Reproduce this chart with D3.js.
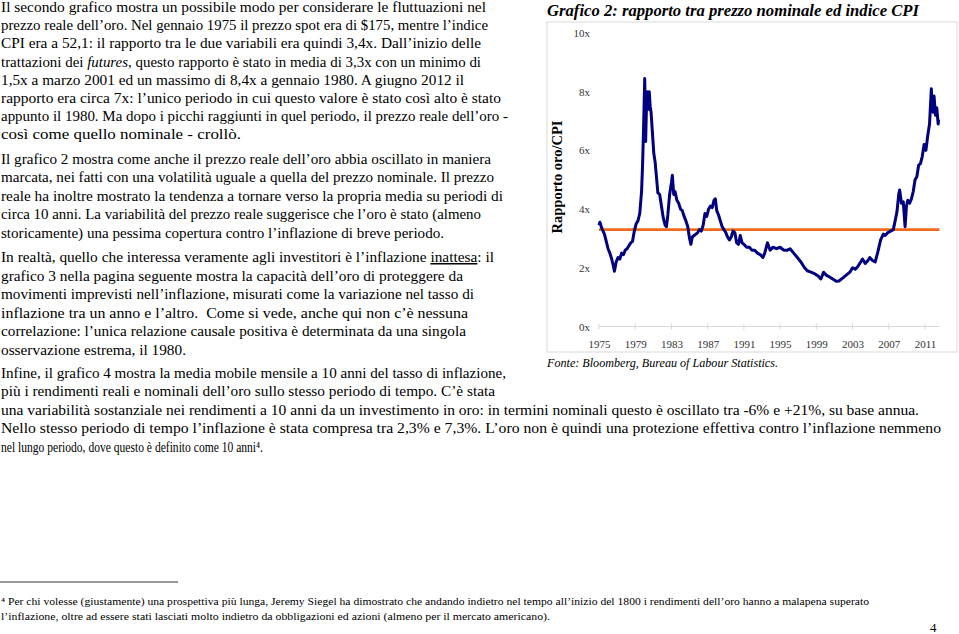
<!DOCTYPE html>
<html><head><meta charset="utf-8">
<script src="https://cdn.jsdelivr.net/npm/d3@7"></script>
<style>body{margin:0;background:#fff} svg{display:block}</style>
</head><body>
<svg id="page" width="959" height="634"></svg>
<script>
// ---------- chart data ----------
const years = [1975.0,1975.1,1975.3,1975.6,1975.8,1976.0,1976.2,1976.4,1976.6,1976.7,1976.9,1977.1,1977.3,1977.5,1977.7,1977.9,1978.1,1978.3,1978.5,1978.7,1978.9,1979.1,1979.3,1979.5,1979.7,1979.8,1979.9,1980.05,1980.15,1980.25,1980.35,1980.45,1980.55,1980.65,1980.75,1980.9,1981.05,1981.2,1981.4,1981.5,1981.7,1981.9,1982.1,1982.3,1982.45,1982.6,1982.8,1983.0,1983.1,1983.25,1983.4,1983.6,1983.8,1984.0,1984.2,1984.4,1984.6,1984.8,1985.0,1985.15,1985.3,1985.5,1985.7,1985.9,1986.1,1986.3,1986.5,1986.7,1986.9,1987.1,1987.3,1987.5,1987.7,1987.85,1988.0,1988.2,1988.4,1988.6,1988.8,1989.0,1989.2,1989.4,1989.6,1989.8,1990.0,1990.2,1990.4,1990.6,1990.8,1991.0,1991.3,1991.6,1991.9,1992.2,1992.5,1992.8,1993.1,1993.3,1993.6,1993.9,1994.2,1994.6,1995.0,1995.4,1995.8,1996.1,1996.5,1996.9,1997.3,1997.7,1998.0,1998.4,1998.8,1999.2,1999.5,1999.8,2000.1,2000.5,2000.9,2001.2,2001.5,2001.9,2002.3,2002.7,2003.0,2003.3,2003.6,2003.9,2004.1,2004.4,2004.7,2004.9,2005.2,2005.5,2005.8,2006.1,2006.4,2006.6,2006.9,2007.2,2007.5,2007.7,2007.9,2008.1,2008.2,2008.4,2008.6,2008.8,2008.95,2009.1,2009.3,2009.5,2009.7,2009.9,2010.1,2010.3,2010.5,2010.7,2010.9,2011.1,2011.3,2011.5,2011.6,2011.7,2011.8,2011.9,2012.0,2012.15,2012.3,2012.45,2012.5];
const ratios = [3.45,3.55,3.35,3.15,2.9,2.65,2.5,2.3,2.05,1.88,2.2,2.35,2.3,2.5,2.45,2.6,2.65,2.75,2.85,2.9,3.25,3.5,3.6,3.85,4.6,5.4,6.5,8.45,6.3,7.6,8.0,7.4,8.0,7.5,7.3,6.6,5.9,5.6,4.9,4.55,4.5,4.1,3.7,3.45,3.4,3.8,4.5,4.9,5.15,4.5,4.6,4.3,4.2,4.0,3.95,3.75,3.6,3.4,3.0,2.8,3.05,3.1,3.15,3.2,3.3,3.25,3.45,3.85,3.75,4.0,4.1,4.05,4.3,4.35,3.95,3.8,3.6,3.4,3.3,3.2,3.05,2.95,3.05,3.25,3.2,2.85,2.8,3.1,2.85,2.8,2.7,2.7,2.6,2.6,2.5,2.45,2.35,2.5,2.85,2.6,2.7,2.65,2.7,2.6,2.6,2.65,2.5,2.35,2.2,2.0,1.9,1.85,1.8,1.72,1.62,1.85,1.75,1.68,1.6,1.54,1.55,1.65,1.75,1.85,2.0,1.95,2.05,2.2,2.3,2.15,2.25,2.35,2.25,2.2,2.55,2.95,3.15,3.1,3.2,3.25,3.3,3.6,3.9,4.5,4.65,4.2,4.25,3.4,4.1,4.3,4.2,4.35,4.6,5.0,5.1,5.5,5.55,5.8,6.2,6.0,6.5,6.9,7.5,8.1,7.4,7.3,7.85,7.2,7.45,6.9,7.05];
const meanRatio = 3.3;
const yTickValues = [0, 2, 4, 6, 8, 10];
const xTickYears = [1975, 1979, 1983, 1987, 1991, 1995, 1999, 2003, 2007, 2011];
const chartTitle = "Grafico 2: rapporto tra prezzo nominale ed indice CPI";
const yAxisTitle = "Rapporto oro/CPI";
const sourceNote = "Fonte: Bloomberg, Bureau of Labour Statistics.";

// ---------- page text ----------
const para1 = [
  [["Il secondo grafico mostra un possibile modo per considerare le fluttuazioni nel"]],
  [["prezzo reale dell’oro. Nel gennaio 1975 il prezzo spot era di $175, mentre l’indice"]],
  [["CPI era a 52,1: il rapporto tra le due variabili era quindi 3,4x. Dall’inizio delle"]],
  [["trattazioni dei "],["futures","i"],[", questo rapporto è stato in media di 3,3x con un minimo di"]],
  [["1,5x a marzo 2001 ed un massimo di 8,4x a gennaio 1980. A giugno 2012 il"]],
  [["rapporto era circa 7x: l’unico periodo in cui questo valore è stato così alto è stato"]],
  [["appunto il 1980. Ma dopo i picchi raggiunti in quel periodo, il prezzo reale dell’oro -"]],
  [["così come quello nominale - crollò."]]
];
const para2 = [
  [["Il grafico 2 mostra come anche il prezzo reale dell’oro abbia oscillato in maniera"]],
  [["marcata, nei fatti con una volatilità uguale a quella del prezzo nominale. Il prezzo"]],
  [["reale ha inoltre mostrato la tendenza a tornare verso la propria media su periodi di"]],
  [["circa 10 anni. La variabilità del prezzo reale suggerisce che l’oro è stato (almeno"]],
  [["storicamente) una pessima copertura contro l’inflazione di breve periodo."]]
];
const para3 = [
  [["In realtà, quello che interessa veramente agli investitori è l’inflazione "],["inattesa","u"],[": il"]],
  [["grafico 3 nella pagina seguente mostra la capacità dell’oro di proteggere da"]],
  [["movimenti imprevisti nell’inflazione, misurati come la variazione nel tasso di"]],
  [["inflazione tra un anno e l’altro.  Come si vede, anche qui non c’è nessuna"]],
  [["correlazione: l’unica relazione causale positiva è determinata da una singola"]],
  [["osservazione estrema, il 1980."]]
];
const para4 = [
  [["Infine, il grafico 4 mostra la media mobile mensile a 10 anni del tasso di inflazione,"]],
  [["più i rendimenti reali e nominali dell’oro sullo stesso periodo di tempo. C’è stata"]],
  [["una variabilità sostanziale nei rendimenti a 10 anni da un investimento in oro: in termini nominali questo è oscillato tra -6% e +21%, su base annua."]],
  [["Nello stesso periodo di tempo l’inflazione è stata compresa tra 2,3% e 7,3%. L’oro non è quindi una protezione effettiva contro l’inflazione nemmeno"]],
  [["nel lungo periodo, dove questo è definito come 10 anni⁴."]]
];
const footnote = [
  [["⁴ Per chi volesse (giustamente) una prospettiva più lunga, Jeremy Siegel ha dimostrato che andando indietro nel tempo all’inizio del 1800 i rendimenti dell’oro hanno a malapena superato"]],
  [["l’inflazione, oltre ad essere stati lasciati molto indietro da obbligazioni ed azioni (almeno per il mercato americano)."]]
];
const pageNumber = "4";

// ---------- layout (positions/sizes) ----------
const blocks = [
  {lines: para1, y0: 12,  dy: 18.2, size: 15, widths: [485,487,480,480,463,500,507,240]},
  {lines: para2, y0: 164, dy: 18.4, size: 15, widths: [490,493,502,480,443]},
  {lines: para3, y0: 262, dy: 18.5, size: 15, widths: [493,462,473,467,465,185]},
  {lines: para4, y0: 378, dy: 18.4, size: 15, widths: [505,494,918,940,262]},
  {lines: footnote, y0: 605, dy: 15, size: 10.5, widths: [868,549]}
];

const svg = d3.select("#page");
const serif = "'Liberation Serif', 'DejaVu Serif', serif";

blocks.forEach(b => {
  b.lines.forEach((segs, i) => {
    const t = svg.append("text")
      .attr("x", 1)
      .attr("y", b.y0 + i * b.dy)
      .attr("font-family", serif)
      .attr("font-size", b.size)
      .attr("fill", "#000")
      .attr("textLength", b.widths[i])
      .attr("lengthAdjust", "spacingAndGlyphs")
      .style("white-space", "pre");
    segs.forEach(([txt, st]) => {
      const ts = t.append("tspan").text(txt);
      if (st === "i") ts.attr("font-style", "italic");
      if (st === "u") ts.attr("text-decoration", "underline");
    });
  });
});

// footnote separator
svg.append("line").attr("x1", 0).attr("x2", 178).attr("y1", 582).attr("y2", 582)
  .attr("stroke", "#000").attr("stroke-width", 0.8);
svg.append("text").attr("x", 930).attr("y", 632).attr("font-family", serif)
  .attr("font-size", 13).text(pageNumber);

// ---------- chart ----------
svg.append("text").attr("x", 547).attr("y", 16)
  .attr("font-family", serif).attr("font-size", 16.5)
  .attr("font-weight", "bold").attr("font-style", "italic")
  .attr("textLength", 372).attr("lengthAdjust", "spacingAndGlyphs")
  .text(chartTitle);

svg.append("rect").attr("x", 547).attr("y", 22).attr("width", 410).attr("height", 330)
  .attr("fill", "#fff").attr("stroke", "#d9d9d9").attr("stroke-width", 1);

const x = d3.scaleLinear().domain([1975, 2011]).range([599, 925]);
const y = d3.scaleLinear().domain([0, 10]).range([326.5, 33]);
const xEnd = 2012.6;

// x axis
const xAxis = d3.axisBottom(x).tickValues(xTickYears).tickFormat(d3.format("d"))
  .tickSize(0).tickPadding(14);
const gx = svg.append("g").attr("transform", `translate(0,${y(0)})`).call(xAxis);
gx.select(".domain").remove();
gx.selectAll("text").attr("font-family", serif).attr("font-size", 11).attr("fill", "#333");
svg.append("line").attr("x1", x(1975)).attr("x2", x(xEnd)).attr("y1", y(0)).attr("y2", y(0))
  .attr("stroke", "#d9d9d9").attr("stroke-width", 1);
svg.append("g").selectAll("line").data(xTickYears).join("line")
  .attr("x1", d => x(d)).attr("x2", d => x(d))
  .attr("y1", y(0) - 3).attr("y2", y(0) + 3)
  .attr("stroke", "#d9d9d9");

// y axis
const yAxis = d3.axisLeft(y).tickValues(yTickValues).tickFormat(d => d + "x")
  .tickSize(0).tickPadding(0);
const gy = svg.append("g").attr("transform", `translate(590,0)`).call(yAxis);
gy.select(".domain").remove();
gy.selectAll("text").attr("font-family", serif).attr("font-size", 11).attr("fill", "#333");

svg.append("text")
  .attr("transform", `translate(562,177) rotate(-90)`)
  .attr("text-anchor", "middle")
  .attr("font-family", serif).attr("font-size", 14.5).attr("font-weight", "bold")
  .text(yAxisTitle);

// mean line
svg.append("line")
  .attr("x1", x(1975)).attr("x2", x(xEnd))
  .attr("y1", y(meanRatio)).attr("y2", y(meanRatio))
  .attr("stroke", "#f26b1d").attr("stroke-width", 2.8);

// ratio series
const series = years.map((yr, i) => [yr, ratios[i]]);
svg.append("path").datum(series)
  .attr("fill", "none").attr("stroke", "#000080").attr("stroke-width", 3)
  .attr("stroke-linejoin", "round")
  .attr("d", d3.line().x(d => x(d[0])).y(d => y(d[1])));

svg.append("text").attr("x", 547).attr("y", 367)
  .attr("font-family", serif).attr("font-size", 13).attr("font-style", "italic")
  .attr("textLength", 231).attr("lengthAdjust", "spacingAndGlyphs")
  .text(sourceNote);
</script>
</body></html>
